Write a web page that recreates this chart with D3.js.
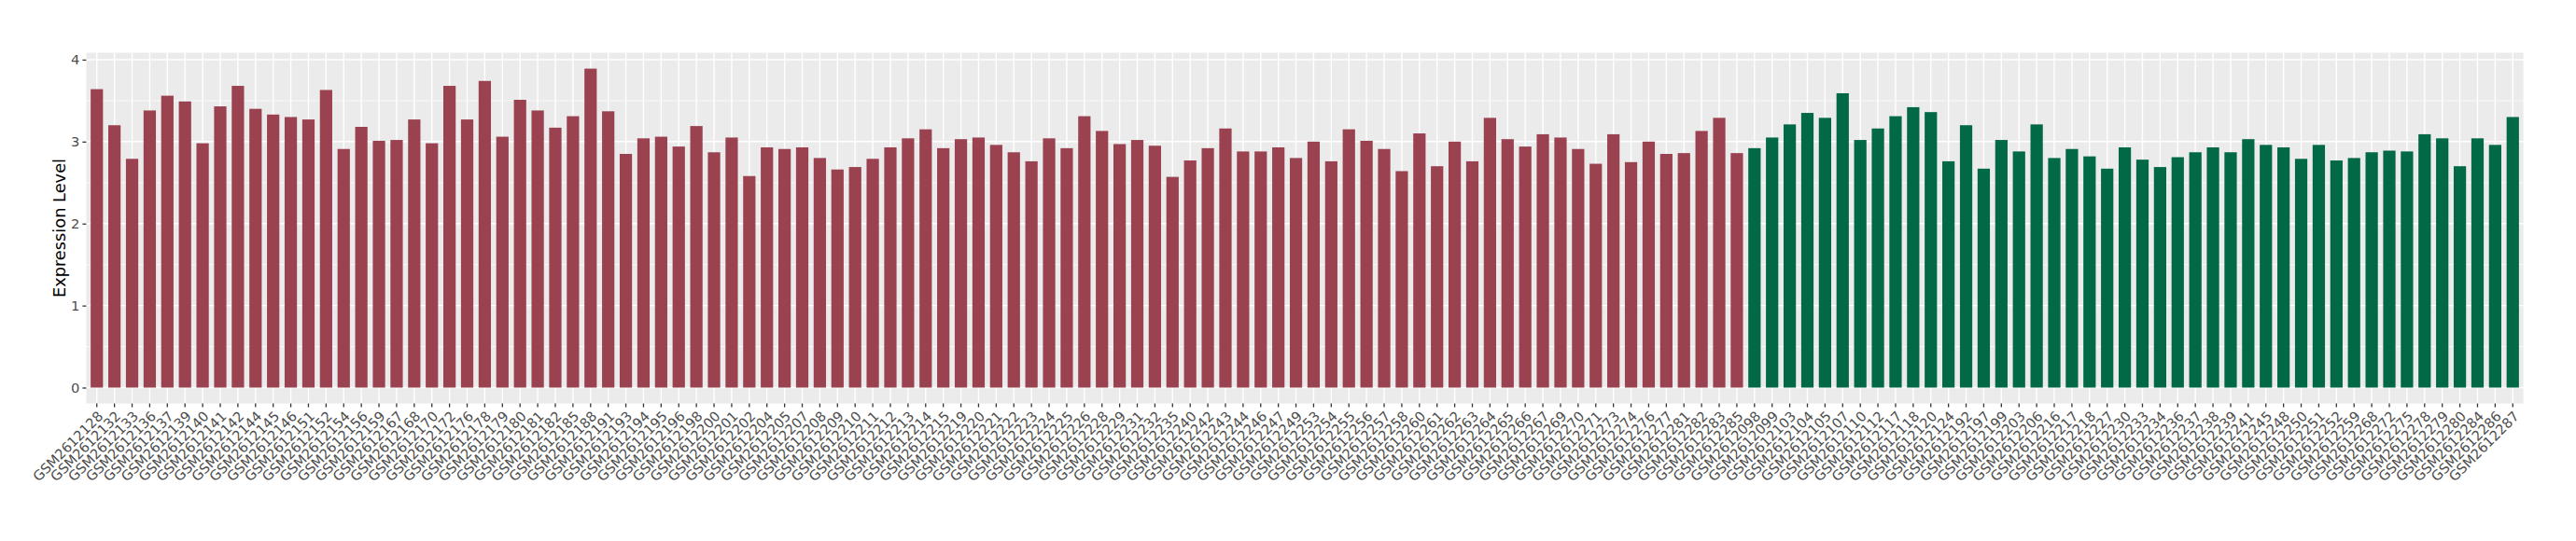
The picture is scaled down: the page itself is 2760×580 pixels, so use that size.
<!DOCTYPE html>
<html>
<head>
<meta charset="utf-8">
<script src="https://cdn.jsdelivr.net/npm/d3@7"></script>
<style>
  html, body { margin: 0; padding: 0; background: #ffffff; }
  svg { display: block; }
</style>
</head>
<body>
<svg id="chart" width="2760" height="580"></svg>
<script>
// ---- data ----
const samplesA = ["GSM2612128","GSM2612132","GSM2612133","GSM2612136","GSM2612137","GSM2612139","GSM2612140","GSM2612141",
  "GSM2612142","GSM2612144","GSM2612145","GSM2612146","GSM2612151","GSM2612152","GSM2612154","GSM2612156","GSM2612159","GSM2612167","GSM2612168",
  "GSM2612170","GSM2612172","GSM2612176","GSM2612178","GSM2612179","GSM2612180","GSM2612181","GSM2612182","GSM2612185","GSM2612188","GSM2612191","GSM2612193",
  "GSM2612194","GSM2612195","GSM2612196","GSM2612198","GSM2612200","GSM2612201","GSM2612202","GSM2612204","GSM2612205","GSM2612207","GSM2612208",
  "GSM2612209","GSM2612210","GSM2612211","GSM2612212","GSM2612213","GSM2612214","GSM2612215","GSM2612219","GSM2612220","GSM2612221","GSM2612222","GSM2612223",
  "GSM2612224","GSM2612225","GSM2612226","GSM2612228","GSM2612229","GSM2612231","GSM2612232","GSM2612235","GSM2612240","GSM2612242","GSM2612243","GSM2612244",
  "GSM2612246","GSM2612247","GSM2612249","GSM2612253","GSM2612254","GSM2612255","GSM2612256","GSM2612257","GSM2612258","GSM2612260","GSM2612261","GSM2612262",
  "GSM2612263","GSM2612264","GSM2612265","GSM2612266","GSM2612267","GSM2612269","GSM2612270","GSM2612271","GSM2612273","GSM2612274","GSM2612276","GSM2612277",
  "GSM2612281","GSM2612282","GSM2612283","GSM2612285"];
const valuesA = [3.64,3.20,2.79,3.38,3.56,3.49,2.98,3.43,
  3.68,3.40,3.33,3.30,3.27,3.63,2.91,3.18,3.01,3.02,3.27,
  2.98,3.68,3.27,3.74,3.06,3.51,3.38,3.17,3.31,3.89,3.37,2.85,
  3.04,3.06,2.94,3.19,2.87,3.05,2.58,2.93,2.91,2.93,2.80,
  2.66,2.69,2.79,2.93,3.04,3.15,2.92,3.03,3.05,2.96,2.87,2.76,
  3.04,2.92,3.31,3.13,2.97,3.02,2.95,2.57,2.77,2.92,3.16,2.88,
  2.88,2.93,2.80,3.00,2.76,3.15,3.01,2.91,2.64,3.10,2.70,3.00,
  2.76,3.29,3.03,2.94,3.09,3.05,2.91,2.73,3.09,2.75,3.00,2.85,
  2.86,3.13,3.29,2.86];
const samplesB = ["GSM2612098","GSM2612099","GSM2612103","GSM2612104","GSM2612105","GSM2612107","GSM2612110",
  "GSM2612112","GSM2612117","GSM2612118","GSM2612120","GSM2612124","GSM2612192","GSM2612197","GSM2612199","GSM2612203","GSM2612206","GSM2612216","GSM2612217",
  "GSM2612218","GSM2612227","GSM2612230","GSM2612233","GSM2612234","GSM2612236","GSM2612237","GSM2612238","GSM2612239","GSM2612241","GSM2612245",
  "GSM2612248","GSM2612250","GSM2612251","GSM2612252","GSM2612259","GSM2612268","GSM2612272","GSM2612275","GSM2612278","GSM2612279","GSM2612280","GSM2612284","GSM2612286","GSM2612287"];
const valuesB = [2.92,3.05,3.21,3.35,3.29,3.59,3.02,
  3.16,3.31,3.42,3.36,2.76,3.20,2.67,3.02,2.88,3.21,2.80,2.91,
  2.82,2.67,2.93,2.78,2.69,2.81,2.87,2.93,2.87,3.03,2.96,
  2.93,2.79,2.96,2.77,2.80,2.87,2.89,2.88,3.09,3.04,2.70,3.04,2.96,3.30];
const groupColors = ["#9B4251", "#026947"];
const yTicks = [0, 1, 2, 3, 4];
const yMinorTicks = [0.5, 1.5, 2.5, 3.5];
const yTitle = "Expression Level";

// ---- build ----
const FONT = "'DejaVu Sans', 'Liberation Sans', Arial, sans-serif";
const rows = samplesA.map((s, i) => ({ sample: s, value: valuesA[i], group: 0 }))
  .concat(samplesB.map((s, i) => ({ sample: s, value: valuesB[i], group: 1 })));

const svg = d3.select("#chart");
const panel = { left: 92.4, right: 2703.6, top: 56.5, bottom: 432.6 };

const x = d3.scaleBand()
  .domain(rows.map(d => d.sample))
  .range([panel.left, panel.right])
  .paddingInner(0.3)
  .paddingOuter(0.25);

const ymax = d3.max(rows, d => d.value);
const pad = ymax * 0.05;
const y = d3.scaleLinear().domain([-pad, ymax + pad]).range([panel.bottom, panel.top]);

// panel background
svg.append("rect")
  .attr("x", panel.left).attr("y", panel.top)
  .attr("width", panel.right - panel.left).attr("height", panel.bottom - panel.top)
  .attr("fill", "#EBEBEB");

// minor grid
svg.append("g").selectAll("line").data(yMinorTicks).join("line")
  .attr("x1", panel.left).attr("x2", panel.right)
  .attr("y1", d => y(d)).attr("y2", d => y(d))
  .attr("stroke", "#ffffff").attr("stroke-width", 0.7);

// major grid
svg.append("g").selectAll("line").data(yTicks).join("line")
  .attr("x1", panel.left).attr("x2", panel.right)
  .attr("y1", d => y(d)).attr("y2", d => y(d))
  .attr("stroke", "#ffffff").attr("stroke-width", 1.4);

svg.append("g").selectAll("line").data(rows).join("line")
  .attr("x1", d => x(d.sample) + x.bandwidth() / 2).attr("x2", d => x(d.sample) + x.bandwidth() / 2)
  .attr("y1", panel.top).attr("y2", panel.bottom)
  .attr("stroke", "#ffffff").attr("stroke-width", 1.4);

// bars
svg.append("g").selectAll("rect").data(rows).join("rect")
  .attr("x", d => x(d.sample))
  .attr("width", x.bandwidth())
  .attr("y", d => y(d.value))
  .attr("height", d => y(0) - y(d.value))
  .attr("fill", d => groupColors[d.group]);

// y axis
const yAxis = d3.axisLeft(y).tickValues(yTicks).tickSize(4).tickPadding(3).tickFormat(d3.format("d"));
const gy = svg.append("g").attr("transform", `translate(${panel.left},0)`).call(yAxis);
gy.select(".domain").remove();
gy.selectAll(".tick line").attr("stroke", "#333333").attr("stroke-width", 1.3);
gy.selectAll(".tick text")
  .attr("fill", "#4D4D4D")
  .style("font-family", FONT)
  .style("font-size", "14.7px");

// x axis
const xAxis = d3.axisBottom(x).tickSize(4).tickPadding(3);
const gx = svg.append("g").attr("transform", `translate(0,${panel.bottom})`).call(xAxis);
gx.select(".domain").remove();
gx.selectAll(".tick line").attr("stroke", "#333333").attr("stroke-width", 1.3);
gx.selectAll(".tick text")
  .attr("fill", "#4D4D4D")
  .style("font-family", FONT)
  .style("font-size", "14.7px")
  .attr("text-anchor", "end")
  .attr("y", 0).attr("dy", "0.73em")
  .attr("transform", "translate(0,7) rotate(-45)");

// y title
svg.append("text")
  .attr("transform", `translate(70,${(panel.top + panel.bottom) / 2}) rotate(-90)`)
  .attr("text-anchor", "middle")
  .style("font-family", FONT)
  .style("font-size", "17.8px")
  .attr("fill", "#000000")
  .text(yTitle);
</script>
</body>
</html>
